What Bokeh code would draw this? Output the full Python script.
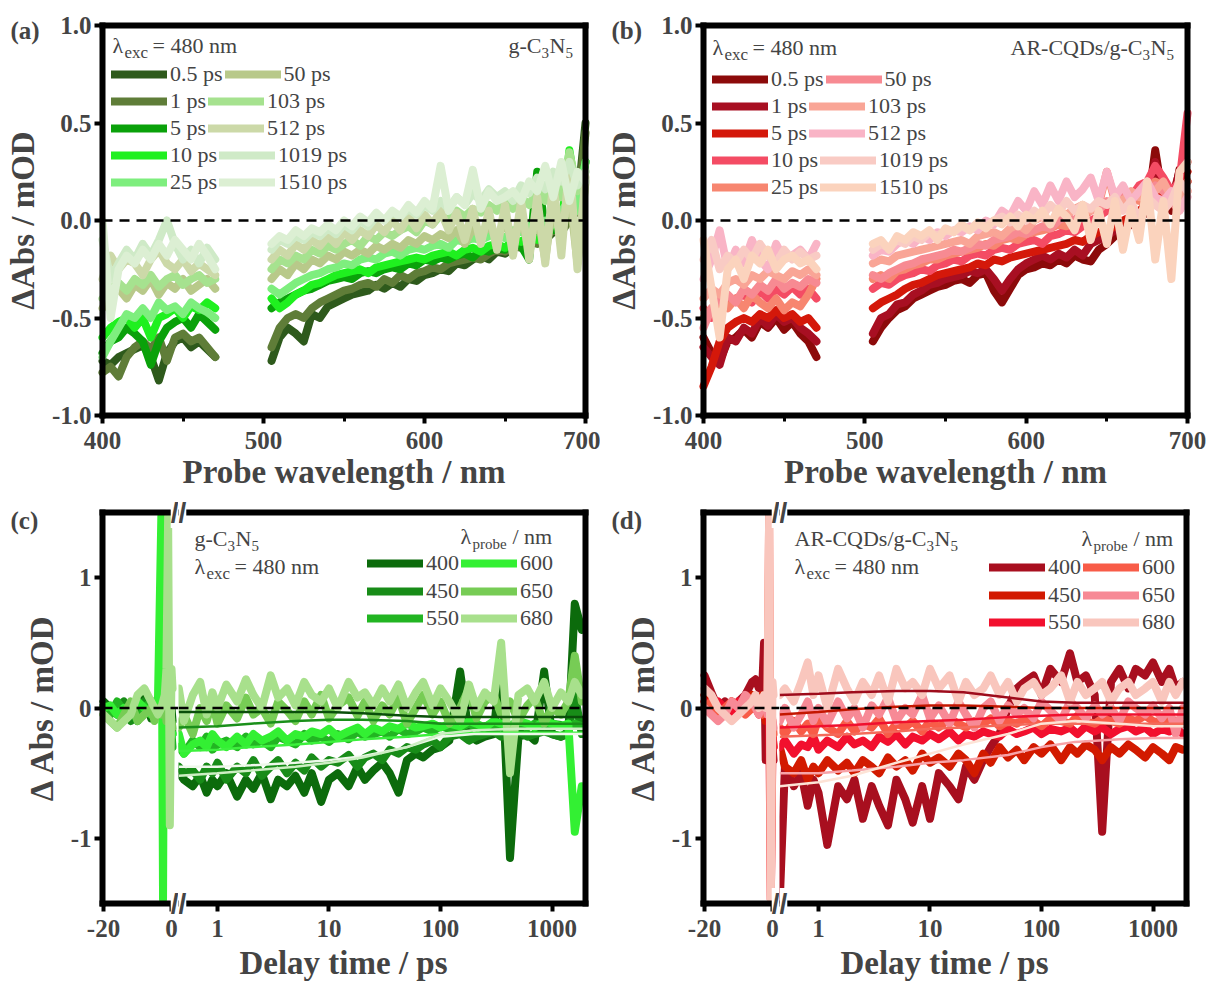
import math
from bokeh.plotting import figure
from bokeh.layouts import row, column
from bokeh.models import (Range1d, FixedTicker, LinearAxis, LogAxis, Label,
                          Legend, LegendItem, BasicTickFormatter)
from bokeh.embed import file_html
from bokeh.resources import INLINE

NAN = float("nan")
FONT = "Liberation Serif"

# ---------------- data: panels (a) and (b), transient spectra ----------------
WL_BLUE = list(range(400, 471, 5))    # probe wavelengths below the pump gap
WL_RED = list(range(505, 701, 5))     # probe wavelengths above the pump gap
DELAYS = ["0.5 ps", "1 ps", "5 ps", "10 ps", "25 ps", "50 ps", "103 ps", "512 ps", "1019 ps", "1510 ps"]
GREENS = ["#2e5a1c", "#5f7d38", "#0aa10a", "#1ff01f", "#7eee7e", "#b8c98a", "#a6e28f", "#ccd9a8", "#cfeac7", "#dcefd3"]
REDS = ["#8c0a0a", "#a80f22", "#d4180a", "#f44c64", "#f78670", "#f78a92", "#f9a596", "#f9b4c6", "#f9cbc4", "#fbd3bd"]
X_LIM_AB = [400, 700]
Y_LIM_AB = [-1.0, 1.0]
X_TICKS_AB = [400, 500, 600, 700]
X_LABELS_AB = ["400", "500", "600", "700"]
X_MINOR_AB = [450, 550, 650]
Y_TICKS_AB = [-1.0, -0.5, 0.0, 0.5, 1.0]
Y_LABELS_AB = ["-1.0", "-0.5", "0.0", "0.5", "1.0"]

# g-C3N5, 400-470 nm
a05_1 = [-0.72, -0.74, -0.7, -0.68, -0.66, -0.64, -0.7, -0.82, -0.68, -0.62, -0.6, -0.65, -0.62, -0.66, -0.7]
a1_1 = [-0.78, -0.75, -0.8, -0.7, -0.65, -0.62, -0.66, -0.6, -0.72, -0.6, -0.58, -0.62, -0.6, -0.65, -0.7]
a5_1 = [-0.68, -0.62, -0.6, -0.55, -0.58, -0.62, -0.74, -0.62, -0.55, -0.52, -0.5, -0.55, -0.48, -0.52, -0.56]
a10_1 = [-0.6, -0.55, -0.52, -0.5, -0.55, -0.5, -0.6, -0.5, -0.48, -0.45, -0.5, -0.44, -0.46, -0.42, -0.45]
a25_1 = [-0.7, -0.62, -0.55, -0.48, -0.5, -0.45, -0.5, -0.42, -0.46, -0.44, -0.48, -0.42, -0.45, -0.47, -0.5]
a50_1 = [-0.45, -0.38, -0.35, -0.4, -0.33, -0.36, -0.3, -0.38, -0.32, -0.35, -0.3, -0.36, -0.33, -0.3, -0.35]
a103_1 = [-0.4, -0.35, -0.32, -0.36, -0.3, -0.33, -0.28, -0.34, -0.3, -0.28, -0.33, -0.3, -0.28, -0.32, -0.3]
a512_1 = [-0.3, -0.18, -0.25, -0.2, -0.22, -0.28, -0.2, -0.15, -0.22, -0.25, -0.2, -0.26, -0.22, -0.25, -0.28]
a1019_1 = [-0.1, -0.3, -0.22, -0.15, -0.2, -0.12, -0.18, -0.1, 0.0, -0.12, -0.2, -0.15, -0.22, -0.14, -0.2]
a1510_1 = [0.0, -0.5, -0.25, -0.18, -0.22, -0.15, -0.2, -0.12, -0.18, -0.1, -0.15, -0.2, -0.12, -0.18, -0.25]
# g-C3N5, 505-700 nm
a05_2 = [-0.72, -0.6, -0.55, -0.58, -0.62, -0.48, -0.5, -0.44, -0.42, -0.4, -0.38, -0.37, -0.36, -0.33, -0.35, -0.32, -0.34, -0.3, -0.31, -0.28,
         -0.27, -0.25, -0.26, -0.22, -0.23, -0.2, -0.18, -0.2, -0.16, -0.17, -0.14, -0.12, -0.13, -0.08, -0.1, -0.06, -0.03, 0.02, 0.08, 0.5]
a1_2 = [-0.65, -0.55, -0.5, -0.48, -0.5, -0.45, -0.42, -0.4, -0.38, -0.36, -0.35, -0.33, -0.32, -0.34, -0.3, -0.32, -0.28, -0.3, -0.27, -0.26,
        -0.24, -0.25, -0.22, -0.21, -0.2, -0.19, -0.2, -0.17, -0.15, -0.16, -0.13, -0.14, -0.1, -0.12, -0.08, -0.05, -0.06, 0.0, 0.05, 0.45]
a5_2 = [-0.45, -0.42, -0.4, -0.38, -0.36, -0.35, -0.33, -0.31, -0.3, -0.29, -0.3, -0.27, -0.26, -0.27, -0.25, -0.24, -0.25, -0.22, -0.23, -0.2,
        -0.21, -0.19, -0.2, -0.18, -0.17, -0.19, -0.15, -0.16, -0.14, -0.15, -0.12, -0.13, -0.2, 0.25, -0.05, -0.05, 0.0, 0.02, 0.1, 0.3]
a10_2 = [-0.4, -0.45, -0.42, -0.38, -0.36, -0.33, -0.32, -0.3, -0.28, -0.27, -0.26, -0.25, -0.27, -0.24, -0.23, -0.22, -0.21, -0.2, -0.19, -0.2,
         -0.18, -0.17, -0.16, -0.18, -0.15, -0.14, -0.16, -0.13, -0.12, -0.14, -0.1, -0.11, -0.08, -0.1, -0.05, -0.02, -0.04, 0.36, 0.1, 0.3]
a25_2 = [-0.35, -0.38, -0.35, -0.32, -0.3, -0.28, -0.27, -0.25, -0.24, -0.22, -0.23, -0.2, -0.19, -0.2, -0.17, -0.16, -0.18, -0.15, -0.14, -0.15,
         -0.13, -0.12, -0.14, -0.1, -0.11, -0.09, -0.1, -0.08, -0.07, -0.09, -0.05, -0.06, -0.03, -0.05, 0.0, -0.02, 0.05, 0.1, 0.05, 0.3]
a50_2 = [-0.3, -0.25, -0.28, -0.22, -0.25, -0.2, -0.22, -0.18, -0.2, -0.16, -0.18, -0.15, -0.17, -0.13, -0.15, -0.12, -0.14, -0.1, -0.12, -0.08,
         -0.1, -0.07, -0.09, -0.05, -0.12, -0.04, -0.08, -0.02, -0.1, 0.0, -0.12, 0.02, -0.15, 0.05, -0.2, 0.1, -0.05, 0.15, -0.22, 0.2]
a103_2 = [-0.25, -0.2, -0.22, -0.18, -0.2, -0.15, -0.17, -0.13, -0.15, -0.12, -0.1, -0.13, -0.08, -0.1, -0.06, -0.08, -0.05, -0.03, -0.06, 0.0,
          -0.02, 0.03, 0.0, 0.05, 0.02, 0.06, 0.04, 0.08, 0.05, 0.1, 0.06, 0.12, 0.08, 0.15, 0.1, 0.2, 0.12, 0.35, 0.15, 0.25]
a512_2 = [-0.2, -0.15, -0.18, -0.12, -0.15, -0.1, -0.13, -0.08, -0.12, -0.06, -0.1, -0.05, -0.08, -0.02, -0.06, 0.0, -0.05, 0.02, -0.04, 0.03,
          -0.02, 0.05, -0.05, 0.04, -0.1, 0.06, -0.12, 0.05, -0.15, 0.08, -0.18, 0.1, -0.2, 0.12, -0.22, 0.2, -0.18, 0.3, -0.25, 0.22]
a1019_2 = [-0.15, -0.1, -0.12, -0.08, -0.1, -0.06, -0.08, -0.04, -0.07, -0.02, -0.05, 0.0, -0.03, 0.02, 0.0, 0.04, 0.02, 0.06, 0.03, 0.08,
           0.05, 0.1, 0.06, 0.12, 0.08, 0.14, 0.1, 0.16, 0.12, 0.15, 0.1, 0.18, 0.14, 0.22, 0.16, 0.25, 0.2, 0.3, 0.18, 0.25]
a1510_2 = [-0.12, -0.08, -0.1, -0.05, -0.08, -0.04, -0.06, -0.02, -0.05, 0.0, -0.03, 0.02, -0.01, 0.04, 0.0, 0.05, 0.02, 0.08, 0.04, 0.1,
           0.06, 0.28, 0.05, 0.12, 0.08, 0.26, 0.06, 0.15, 0.1, 0.12, 0.15, 0.1, 0.2, 0.15, 0.28, 0.12, 0.3, 0.1, 0.25, 0.2]

# AR-CQDs/g-C3N5, 400-470 nm
b05_1 = [-0.6, -0.68, -0.72, -0.62, -0.6, -0.56, -0.6, -0.52, -0.55, -0.5, -0.56, -0.52, -0.58, -0.62, -0.7]
b1_1 = [-0.65, -0.7, -0.74, -0.6, -0.62, -0.55, -0.58, -0.5, -0.54, -0.48, -0.52, -0.5, -0.55, -0.58, -0.62]
b5_1 = [-0.85, -0.75, -0.62, -0.55, -0.52, -0.5, -0.52, -0.48, -0.5, -0.46, -0.5, -0.48, -0.52, -0.5, -0.55]
b10_1 = [-0.45, -0.5, -0.48, -0.42, -0.4, -0.38, -0.42, -0.36, -0.4, -0.35, -0.38, -0.34, -0.38, -0.35, -0.4]
b25_1 = [-0.5, -0.45, -0.42, -0.45, -0.4, -0.45, -0.38, -0.42, -0.45, -0.4, -0.46, -0.42, -0.44, -0.38, -0.3]
b50_1 = [-0.55, -0.45, -0.4, -0.38, -0.42, -0.35, -0.38, -0.33, -0.36, -0.3, -0.35, -0.32, -0.34, -0.3, -0.32]
b103_1 = [-0.4, -0.35, -0.38, -0.32, -0.3, -0.33, -0.28, -0.3, -0.26, -0.28, -0.3, -0.26, -0.28, -0.25, -0.28]
b512_1 = [-0.3, -0.2, -0.05, -0.25, -0.15, -0.22, -0.1, -0.2, -0.25, -0.12, -0.2, -0.18, -0.15, -0.2, -0.12]
b1019_1 = [-0.2, -0.1, -0.25, -0.18, -0.22, -0.15, -0.2, -0.12, -0.18, -0.22, -0.15, -0.2, -0.16, -0.2, -0.18]
b1510_1 = [-0.1, -0.35, -0.6, -0.25, -0.2, -0.3, -0.18, -0.22, -0.15, -0.25, -0.2, -0.18, -0.22, -0.2, -0.25]
# AR-CQDs/g-C3N5, 505-700 nm
b05_2 = [-0.62, -0.55, -0.5, -0.46, -0.44, -0.4, -0.38, -0.36, -0.34, -0.33, -0.31, -0.3, -0.32, -0.28, -0.27, -0.36, -0.42, -0.35, -0.28, -0.25,
         -0.24, -0.22, -0.23, -0.2, -0.22, -0.18, -0.2, -0.21, -0.15, -0.12, -0.08, -0.05, -0.02, 0.0, 0.05, 0.36, 0.1, 0.05, 0.26, 0.2]
b1_2 = [-0.58, -0.5, -0.48, -0.43, -0.42, -0.38, -0.36, -0.33, -0.32, -0.3, -0.29, -0.28, -0.26, -0.27, -0.25, -0.3, -0.36, -0.3, -0.25, -0.22,
        -0.2, -0.18, -0.2, -0.17, -0.19, -0.15, -0.18, -0.12, -0.1, -0.08, -0.05, -0.02, 0.0, 0.03, 0.1, 0.3, 0.15, 0.1, 0.25, 0.3]
b5_2 = [-0.45, -0.42, -0.4, -0.38, -0.35, -0.33, -0.32, -0.3, -0.28, -0.27, -0.26, -0.25, -0.24, -0.22, -0.23, -0.2, -0.21, -0.19, -0.18, -0.17,
        -0.16, -0.15, -0.14, -0.13, -0.12, -0.1, -0.11, -0.08, -0.06, -0.05, -0.03, 0.0, 0.02, 0.05, 0.08, 0.1, 0.15, 0.12, 0.2, 0.25]
b10_2 = [-0.35, -0.32, -0.33, -0.3, -0.28, -0.27, -0.25, -0.26, -0.23, -0.22, -0.2, -0.21, -0.18, -0.17, -0.18, -0.15, -0.14, -0.15, -0.12, -0.11,
         -0.1, -0.12, -0.08, -0.07, -0.05, -0.06, -0.03, 0.0, 0.02, 0.05, 0.08, 0.1, 0.12, 0.18, 0.2, 0.28, 0.22, 0.15, 0.2, 0.55]
b25_2 = [-0.3, -0.28, -0.3, -0.26, -0.25, -0.23, -0.22, -0.2, -0.2, -0.18, -0.17, -0.16, -0.15, -0.14, -0.12, -0.13, -0.1, -0.09, -0.1, -0.07,
         -0.06, -0.05, -0.04, -0.02, -0.03, 0.0, 0.02, 0.05, 0.08, 0.25, 0.1, 0.15, 0.12, 0.1, 0.15, 0.2, 0.18, 0.12, 0.15, 0.2]
b50_2 = [-0.28, -0.3, -0.27, -0.25, -0.23, -0.22, -0.2, -0.19, -0.18, -0.17, -0.15, -0.16, -0.14, -0.12, -0.13, -0.1, -0.09, -0.08, -0.06, -0.07,
         -0.05, -0.03, -0.04, 0.0, 0.02, 0.0, 0.04, 0.06, 0.05, 0.1, 0.08, 0.12, 0.1, 0.15, 0.12, 0.18, 0.15, 0.1, 0.05, 0.15]
b103_2 = [-0.22, -0.2, -0.21, -0.18, -0.17, -0.16, -0.15, -0.14, -0.13, -0.12, -0.11, -0.1, -0.12, -0.08, -0.07, -0.06, -0.08, -0.04, -0.02, -0.05,
          0.0, 0.02, -0.02, 0.05, 0.03, 0.06, 0.08, 0.05, 0.1, 0.08, 0.12, 0.1, 0.15, 0.12, 0.18, 0.15, 0.2, 0.12, 0.1, 0.15]
b512_2 = [-0.18, -0.15, -0.16, -0.12, -0.1, -0.12, -0.08, -0.1, -0.06, -0.08, -0.05, -0.06, -0.03, -0.05, 0.0, -0.02, 0.05, 0.02, 0.1, 0.05,
          0.15, 0.08, 0.18, 0.1, 0.2, 0.12, 0.16, 0.22, 0.1, 0.25, 0.12, 0.18, 0.1, 0.15, 0.2, 0.12, 0.1, 0.15, 0.05, 0.12]
b1019_2 = [-0.15, -0.12, -0.14, -0.1, -0.12, -0.08, -0.1, -0.06, -0.08, -0.05, -0.06, -0.03, -0.05, -0.02, -0.03, 0.0, 0.02, -0.01, 0.03, 0.0,
           0.05, 0.02, 0.08, 0.04, 0.1, 0.05, 0.08, 0.06, 0.1, 0.08, 0.12, 0.05, 0.1, 0.0, 0.12, 0.08, 0.05, 0.1, 0.2, 0.15]
b1510_2 = [-0.12, -0.1, -0.15, -0.08, -0.1, -0.06, -0.08, -0.05, -0.1, -0.04, -0.06, -0.02, -0.05, -0.01, -0.04, 0.0, -0.02, 0.02, -0.03, 0.03,
           0.0, 0.05, -0.02, 0.06, 0.02, -0.05, 0.08, -0.1, 0.05, -0.12, 0.1, -0.15, 0.06, -0.1, 0.2, -0.2, 0.1, -0.3, 0.25, 0.3]

# ---------------- data: panels (c) and (d), kinetics ----------------
PROBES = ["400", "450", "550", "600", "650", "680"]
GREENS_K = ["#0c6b0c", "#188c18", "#22b522", "#33f033", "#77cc55", "#a8e08c"]
REDS_K = ["#a80f1f", "#d21a00", "#f2102e", "#f85c48", "#f78a96", "#f9c6bd"]
X_LIM_NEG = [-20.3, 2.05]        # linear part of the broken delay axis
X_LIM_POS = [0.447, 1997]        # logarithmic part of the broken delay axis
Y_LIM_CD = [-1.5, 1.5]
X_TICKS_NEG = [-20, 0]
X_LABELS_NEG = ["-20", "0"]
X_TICKS_POS = [1, 10, 100, 1000]
X_LABELS_POS = ["1", "10", "100", "1000"]
Y_TICKS_CD = [-1, 0, 1]
Y_LABELS_CD = ["-1", "0", "1"]
T_NEG = [-20, -18, -16, -14, -12, -10, -8, -6, -5, -4, -3, -2.5, -2, -1.5, -1, -0.5, 0, 0.3]
T_POS = [0.45, 0.5, 0.6, 0.7, 0.8, 0.9, 1.0, 1.2, 1.5, 1.8, 2.1, 2.5, 3.0, 3.5, 4.2, 5.0, 6.0, 7.0, 8.5, 10,
         12, 15, 18, 21, 25, 30, 35, 42, 50, 60, 70, 85, 100, 120, 150, 180, 210, 250, 300, 350,
         420, 500, 600, 700, 850, 1000, 1200, 1400, 1600, 1850]
T_FIT = [0.45, 1, 2, 5, 10, 20, 50, 100, 200, 500, 1000, 2000]

c400_n = [0.05, 0.0, -0.05, 0.02, -0.05, 0.0, 0.1, -0.08, 0.05, 0.0, 0.05, 0.0, -0.1, 0.05, 0.0, -0.05, 0.0, -0.1]
c450_n = [0.02, -0.05, 0.0, 0.05, -0.1, -0.05, 0.05, -0.05, 0.0, 0.05, -0.05, 0.0, 0.05, -0.05, 0.0, 0.05, -0.1, -0.2]
c550_n = [0.0, -0.05, 0.05, -0.02, 0.0, -0.1, 0.0, 0.05, -0.05, 0.0, 0.05, -0.1, 0.0, 0.05, -0.05, 0.0, -0.2, -0.3]
c600_n = [0.0, 0.02, -0.05, 0.0, -0.05, 0.05, 0.0, -0.05, 0.0, 0.05, 1.47, -1.47, 1.47, -0.1, 0.0, -0.1, -0.2, -0.2]
c650_n = [-0.05, -0.1, -0.15, -0.05, 0.05, -0.1, -0.05, 0.0, -0.1, 0.0, -0.05, 0.0, 0.05, -0.1, 0.0, 0.0, -0.1, -0.15]
c680_n = [-0.05, -0.1, -0.15, -0.1, -0.05, 0.1, 0.15, 0.05, 0.0, -0.05, 0.0, 0.05, 0.1, 0.3, 1.47, -0.9, 0.3, 0.15]

c400_p = [-0.5, -0.55, -0.6, -0.52, -0.65, -0.55, -0.6, -0.5, -0.68, -0.55, -0.62, -0.5, -0.7, -0.55, -0.6, -0.52, -0.65, -0.5, -0.72, -0.55,
          -0.5, -0.6, -0.45, -0.55, -0.48, -0.42, -0.5, -0.65, -0.4, -0.35, -0.38, -0.32, -0.3, -0.25, 0.28, -0.2, -0.25, -0.22, -0.2, 0.42,
          -1.15, -0.22, -0.2, -0.25, 0.28, -0.2, -0.22, -0.2, 0.8, 0.6]
c450_p = [-0.45, -0.5, -0.48, -0.55, -0.45, -0.5, -0.42, -0.55, -0.45, -0.5, -0.4, -0.52, -0.45, -0.4, -0.5, -0.42, -0.48, -0.38, -0.45, -0.4,
          -0.42, -0.36, -0.45, -0.38, -0.35, -0.4, -0.32, -0.35, -0.3, -0.32, -0.28, -0.25, -0.3, -0.22, -0.2, -0.25, -0.22, -0.2, -0.18, -0.22,
          -0.2, -0.18, -0.22, -0.2, -0.18, -0.2, -0.22, -0.18, 0.1, -0.2]
c550_p = [-0.3, -0.35, -0.25, -0.3, -0.22, -0.32, -0.28, -0.25, -0.3, -0.22, -0.28, -0.25, -0.3, -0.22, -0.25, -0.28, -0.2, -0.25, -0.22, -0.26,
          -0.2, -0.24, -0.18, -0.22, -0.2, -0.18, -0.22, -0.16, -0.2, -0.18, -0.15, -0.18, -0.14, -0.16, -0.15, -0.12, -0.15, -0.14, -0.12, -0.15,
          -0.13, -0.12, -0.15, -0.12, -0.14, -0.12, -0.13, -0.15, -0.12, -0.14]
c600_p = [-0.2, -0.35, -0.28, -0.25, -0.3, -0.2, -0.25, -0.3, -0.22, -0.28, -0.2, -0.25, -0.22, -0.18, -0.25, -0.2, -0.22, -0.18, -0.2, -0.16,
          -0.22, -0.18, -0.15, -0.2, -0.15, -0.18, -0.14, -0.16, -0.12, -0.15, -0.14, -0.12, -0.15, -0.12, -0.14, -0.1, -0.12, -0.15, -0.1, -0.12,
          -0.14, -0.1, -0.12, -0.15, -0.1, -0.12, -0.14, -0.12, -0.95, -0.6]
c650_p = [-0.15, -0.05, -0.2, 0.0, -0.1, 0.05, -0.12, 0.02, -0.08, 0.08, -0.05, 0.0, -0.12, 0.05, -0.02, -0.1, 0.05, -0.05, 0.1, -0.08,
          0.02, 0.08, -0.06, 0.05, -0.1, 0.02, -0.05, 0.08, -0.12, 0.0, 0.1, -0.05, 0.05, -0.12, 0.0, 0.15, -0.08, 0.05, 0.1, -0.05,
          0.05, -0.1, 0.02, 0.08, -0.12, 0.0, -0.05, 0.05, 0.4, 0.05]
c680_p = [0.15, -0.1, 0.1, 0.2, -0.05, 0.12, 0.0, 0.18, 0.05, 0.22, 0.1, 0.0, 0.25, 0.08, 0.15, 0.02, 0.2, 0.1, 0.05, 0.15,
          0.0, 0.2, 0.08, 0.12, 0.02, 0.15, 0.05, 0.18, 0.0, 0.12, 0.2, 0.02, 0.15, 0.05, -0.1, 0.18, 0.0, 0.12, 0.05, 0.5,
          -0.5, 0.1, 0.15, 0.05, 0.2, 0.0, 0.12, 0.05, 0.2, 0.1]
c_fit1 = [-0.03, -0.03, -0.03, -0.03, -0.03, -0.04, -0.06, -0.07, -0.07, -0.07, -0.07, -0.07]
c_fit2 = [-0.15, -0.14, -0.12, -0.1, -0.09, -0.09, -0.1, -0.12, -0.12, -0.12, -0.12, -0.12]
c_fit3 = [-0.33, -0.32, -0.3, -0.28, -0.26, -0.24, -0.22, -0.2, -0.19, -0.19, -0.19, -0.19]
c_fit4 = [-0.45, -0.45, -0.44, -0.42, -0.4, -0.37, -0.3, -0.22, -0.2, -0.2, -0.2, -0.2]
c_fit5 = [-0.52, -0.5, -0.48, -0.45, -0.42, -0.38, -0.3, -0.2, -0.17, -0.16, -0.16, -0.16]
C_FIT_COLORS = ["#0a4f0a", "#1a8f1a", "#3cf03c", "#eef8ea", "#cdeec3"]

d400_n = [0.25, 0.12, 0.0, 0.05, 0.0, 0.05, 0.1, 0.2, 0.22, 0.15, 0.18, 0.5, -0.4, 0.0, -0.1, 0.1, -0.3, -0.4]
d450_n = [0.1, 0.05, 0.0, -0.05, 0.05, 0.0, 0.05, 0.1, 0.05, 0.0, 0.1, 0.0, -0.1, 0.05, 0.0, -0.05, -0.2, -0.3]
d550_n = [0.05, 0.0, 0.05, 0.0, -0.05, 0.05, 0.0, 0.05, 0.0, -0.05, 0.05, 0.0, -0.05, 0.0, 0.05, -1.47, -0.2, -0.3]
d600_n = [0.0, 0.05, -0.05, 0.0, 0.05, 0.0, -0.05, 0.0, 0.05, 0.0, -0.05, 0.0, 0.05, 0.0, 1.47, -1.47, -0.1, -0.2]
d650_n = [0.0, -0.05, -0.1, -0.05, 0.05, 0.0, 0.1, 0.05, 0.0, -0.05, 0.08, 0.0, 0.05, -0.05, 0.0, 0.0, -0.1, -0.15]
d680_n = [0.15, 0.1, 0.0, -0.05, -0.1, -0.05, 0.0, 0.05, 0.1, 0.0, 0.05, 0.1, 0.0, 0.1, 1.47, -1.47, 0.2, 0.1]

d400_p = [-1.47, -0.45, -0.6, -0.5, -0.75, -0.55, -0.65, -1.05, -0.6, -0.7, -0.55, -0.85, -0.6, -0.75, -0.9, -0.55, -0.7, -0.88, -0.6, -0.85,
          -0.5, -0.6, -0.7, -0.45, -0.55, -0.4, -0.3, -0.2, 0.0, 0.15, 0.2, 0.25, 0.1, 0.3, 0.2, 0.42, 0.2, 0.25, 0.1, -0.95,
          0.2, 0.3, 0.15, 0.3, 0.25, 0.35, 0.2, 0.3, 0.15, 0.2]
d450_p = [-0.3, -0.45, -0.5, -0.4, -0.55, -0.45, -0.5, -0.4, -0.48, -0.42, -0.5, -0.4, -0.45, -0.5, -0.38, -0.45, -0.4, -0.48, -0.35, -0.42,
          -0.38, -0.45, -0.35, -0.4, -0.5, -0.35, -0.42, -0.3, -0.38, -0.32, -0.4, -0.3, -0.35, -0.28, -0.4, -0.3, -0.35, -0.28, -0.32, -0.4,
          -0.3, -0.35, -0.28, -0.32, -0.38, -0.3, -0.35, -0.4, -0.3, -0.32]
d550_p = [-0.3, -0.25, -0.35, -0.28, -0.3, -0.22, -0.32, -0.25, -0.3, -0.22, -0.28, -0.25, -0.3, -0.22, -0.26, -0.2, -0.28, -0.22, -0.25, -0.2,
          -0.24, -0.18, -0.25, -0.2, -0.22, -0.18, -0.2, -0.22, -0.16, -0.2, -0.18, -0.15, -0.2, -0.16, -0.18, -0.15, -0.2, -0.14, -0.18, -0.15,
          -0.2, -0.16, -0.14, -0.18, -0.15, -0.2, -0.16, -0.18, -0.15, -0.2]
d600_p = [-0.15, -0.2, -0.1, -0.18, -0.12, -0.2, -0.08, -0.15, -0.2, -0.1, -0.18, -0.12, -0.15, -0.08, -0.2, -0.12, -0.15, -0.1, -0.18, -0.1,
          -0.15, -0.08, -0.12, -0.15, -0.1, -0.12, -0.08, -0.14, -0.1, -0.12, -0.08, -0.1, -0.14, -0.08, -0.1, -0.12, -0.06, -0.1, -0.12, -0.08,
          -0.1, -0.12, -0.08, -0.1, -0.06, -0.1, -0.12, -0.08, -0.1, -0.12]
d650_p = [-0.1, 0.0, -0.15, -0.05, 0.05, -0.1, 0.0, -0.12, 0.05, -0.08, 0.0, -0.15, 0.02, -0.05, 0.08, -0.1, 0.0, -0.05, 0.1, -0.08,
          0.02, -0.12, 0.05, -0.05, -0.15, 0.0, 0.05, -0.1, 0.02, -0.05, 0.0, -0.08, 0.05, -0.02, -0.1, 0.05, 0.0, -0.08, 0.02, -0.05,
          0.0, -0.1, 0.05, 0.0, -0.05, 0.02, -0.08, 0.0, -0.2, 0.0]
d680_p = [0.1, 0.15, 0.05, 0.2, 0.35, 0.1, 0.25, 0.0, 0.3, 0.15, 0.05, 0.2, 0.1, 0.25, 0.05, 0.3, 0.15, 0.2, 0.1, 0.3,
          0.15, 0.25, 0.05, 0.2, 0.1, 0.15, 0.25, 0.1, 0.2, 0.05, 0.15, 0.2, 0.1, 0.15, 0.25, 0.05, 0.2, 0.1, 0.15, 0.2,
          0.05, 0.15, 0.2, 0.1, 0.15, 0.2, 0.05, 0.2, 0.1, 0.2]
d_fit1 = [0.1, 0.11, 0.12, 0.13, 0.13, 0.12, 0.08, 0.05, 0.04, 0.04, 0.04, 0.04]
d_fit2 = [-0.05, -0.03, -0.01, 0.01, 0.02, 0.02, 0.01, 0.0, 0.0, 0.0, 0.0, 0.0]
d_fit3 = [-0.15, -0.14, -0.13, -0.11, -0.1, -0.09, -0.07, -0.06, -0.05, -0.05, -0.05, -0.05]
d_fit4 = [-0.22, -0.21, -0.2, -0.18, -0.16, -0.15, -0.13, -0.12, -0.12, -0.12, -0.12, -0.12]
d_fit5 = [-0.5, -0.5, -0.48, -0.45, -0.42, -0.4, -0.36, -0.3, -0.26, -0.24, -0.23, -0.23]
d_fit6 = [-0.6, -0.57, -0.52, -0.42, -0.35, -0.28, -0.2, -0.12, -0.1, -0.12, -0.14, -0.14]
D_FIT_COLORS = ["#9e0c1c", "#c41600", "#f0102e", "#f46a5a", "#f7a3a8", "#fde3d6"]

A_BLUE = [a05_1, a1_1, a5_1, a10_1, a25_1, a50_1, a103_1, a512_1, a1019_1, a1510_1]
A_RED = [a05_2, a1_2, a5_2, a10_2, a25_2, a50_2, a103_2, a512_2, a1019_2, a1510_2]
B_BLUE = [b05_1, b1_1, b5_1, b10_1, b25_1, b50_1, b103_1, b512_1, b1019_1, b1510_1]
B_RED = [b05_2, b1_2, b5_2, b10_2, b25_2, b50_2, b103_2, b512_2, b1019_2, b1510_2]
C_NEG = [c400_n, c450_n, c550_n, c600_n, c650_n, c680_n]
C_POS = [c400_p, c450_p, c550_p, c600_p, c650_p, c680_p]
D_NEG = [d400_n, d450_n, d550_n, d600_n, d650_n, d680_n]
D_POS = [d400_p, d450_p, d550_p, d600_p, d650_p, d680_p]
C_FITS = [c_fit1, c_fit2, c_fit3, c_fit4, c_fit5]
D_FITS = [d_fit1, d_fit2, d_fit3, d_fit4, d_fit5, d_fit6]

for s in A_BLUE + B_BLUE:
    assert len(s) == len(WL_BLUE)
for s in A_RED + B_RED:
    assert len(s) == len(WL_RED)
for s in C_NEG + D_NEG:
    assert len(s) == len(T_NEG)
for s in C_POS + D_POS:
    assert len(s) == len(T_POS)
for s in C_FITS + D_FITS:
    assert len(s) == len(T_FIT)

# ---------------- layout (pixels, page coordinates) ----------------
H1, H2 = 494, 488           # heights of the two rows
ROW2 = H1                   # page y where row 2 starts
BOX_Y1 = (25, 415)          # plot box top/bottom, row 1
BOX_Y2 = (512 - ROW2, 903 - ROW2)   # plot box top/bottom, row 2 (local)


def lin_range(v0, v1, p0, p1, size):
    s = (v1 - v0) / (p1 - p0)
    return Range1d(v0 - p0 * s, v1 + (size - p1) * s)


def lin_yrange(v0, v1, ptop, pbot, size):
    s = (v1 - v0) / (pbot - ptop)
    return Range1d(v0 - (size - pbot) * s, v1 + ptop * s)


def log_range(v0, v1, p0, p1, size):
    l0, l1 = math.log10(v0), math.log10(v1)
    s = (l1 - l0) / (p1 - p0)
    return Range1d(10 ** (l0 - p0 * s), 10 ** (l1 + (size - p1) * s))


def overrides(ticks, labels):
    d = {}
    for t, lab in zip(ticks, labels):
        d[t] = lab
        d["%g" % t] = lab
    return d


def add_axis(p, side, cls, loc, bounds, ticks=(), labels=None, minor=(), title=None,
             lab_standoff=8, title_standoff=6):
    ax = cls(fixed_location=loc, bounds=tuple(bounds),
             ticker=FixedTicker(ticks=list(ticks), minor_ticks=list(minor)))
    if cls is LogAxis:
        ax.formatter = BasicTickFormatter()
    if labels:
        ax.major_label_overrides = overrides(ticks, labels)
    if title:
        ax.axis_label = title
    ax.axis_line_width = 6
    ax.axis_line_color = "black"
    ax.axis_line_cap = "square"
    ax.major_tick_line_width = 4
    ax.major_tick_in = 0
    ax.major_tick_out = 8
    ax.minor_tick_line_width = 3
    ax.minor_tick_in = 0
    ax.minor_tick_out = 6
    ax.major_label_text_font = FONT
    ax.major_label_text_font_style = "bold"
    ax.major_label_text_font_size = "25px"
    ax.major_label_standoff = lab_standoff
    ax.axis_label_text_font = FONT
    ax.axis_label_text_font_style = "bold"
    ax.axis_label_text_font_size = "33px"
    ax.axis_label_standoff = title_standoff
    p.add_layout(ax, side)
    return ax


def make_fig(w, h, xr, yr, xtype="linear"):
    p = figure(width=w, height=h, x_range=xr, y_range=yr, x_axis_type=xtype,
               x_axis_location=None, y_axis_location=None,
               output_backend="svg", toolbar_location=None, min_border=0)
    p.outline_line_color = None
    p.background_fill_color = "white"
    p.border_fill_color = "white"
    for g in p.grid:
        g.visible = False
    return p


def put(p, h, x, y, s, size="22px", style="normal", align="left", font=FONT, bg=None):
    p.add_layout(Label(x=x, y=h - y, x_units="screen", y_units="screen", text=s,
                       text_font=font, text_font_size=size, text_font_style=style,
                       text_align=align, text_baseline="middle",
                       background_fill_color=bg))


def lam_sub(p, h, x, y, sub, rest, sub_size, rest_dx):
    put(p, h, x, y, "λ")
    put(p, h, x + 12, y + 7, sub, sub_size)
    put(p, h, x + rest_dx, y, rest)


def formula(p, h, x, y, prefix, prefix_w):
    put(p, h, x, y, prefix)
    put(p, h, x + prefix_w, y + 7, "3", "15px")
    put(p, h, x + prefix_w + 8, y, "N")
    put(p, h, x + prefix_w + 24, y + 7, "5", "15px")


def legend_row(p, h, r1, l1, r2, l2, x, yc):
    leg = Legend(items=[LegendItem(label=l1, renderers=[r1]), LegendItem(label=l2, renderers=[r2])],
                 location=(x, h - yc - 12), orientation="horizontal", glyph_width=56, glyph_height=24,
                 label_height=24, label_standoff=3, spacing=2, padding=0, margin=0,
                 border_line_color=None, background_fill_alpha=0,
                 label_text_font=FONT, label_text_font_size="22px")
    p.add_layout(leg)


def spectra_panel(w, bx, blue, red, colors, letter_x, prefix, prefix_w, fx, leg_x, leg_ys, lam_x, lam_y, letter):
    p = make_fig(w, H1, lin_range(X_LIM_AB[0], X_LIM_AB[1], bx[0], bx[1], w),
                 lin_yrange(Y_LIM_AB[0], Y_LIM_AB[1], BOX_Y1[0], BOX_Y1[1], H1))
    xs = WL_BLUE + [NAN] + WL_RED
    rs = []
    for s1, s2, c in zip(blue, red, colors):
        rs.append(p.line(xs, s1 + [NAN] + s2, line_width=8, line_color=c,
                         line_cap="round", line_join="round"))
    p.line(X_LIM_AB, [0, 0], line_color="black", line_width=2.5, line_dash="10 7")
    add_axis(p, "below", LinearAxis, Y_LIM_AB[0], X_LIM_AB, X_TICKS_AB, X_LABELS_AB, X_MINOR_AB,
             "Probe wavelength / nm", 8, 2)
    add_axis(p, "left", LinearAxis, X_LIM_AB[0], Y_LIM_AB, Y_TICKS_AB, Y_LABELS_AB, (),
             "ΔAbs / mOD", 3, 8)
    add_axis(p, "above", LinearAxis, Y_LIM_AB[1], X_LIM_AB)
    add_axis(p, "right", LinearAxis, X_LIM_AB[1], Y_LIM_AB)
    for i in range(5):
        legend_row(p, H1, rs[i], DELAYS[i], rs[i + 5], DELAYS[i + 5], leg_x, leg_ys[i])
    lam_sub(p, H1, lam_x, lam_y, "exc", "= 480 nm", "17px", 40)
    formula(p, H1, fx, lam_y, prefix, prefix_w)
    put(p, H1, letter_x, 30, letter, "25px", "bold")
    return p


def kinetics_panel(wl, bxl, wr, neg, pos, colors, fits, fit_colors, letter, letter_x, prefix, prefix_w,
                   tx, leg_x, leg_ys, lp_x, lp_y, title_x):
    yr = lin_yrange(Y_LIM_CD[0], Y_LIM_CD[1], BOX_Y2[0], BOX_Y2[1], H2)
    pl = make_fig(wl, H2, lin_range(X_LIM_NEG[0], X_LIM_NEG[1], bxl, wl, wl), yr)
    pr = make_fig(wr, H2, log_range(X_LIM_POS[0], X_LIM_POS[1], 0, 407, wr), yr, "log")
    rs = []
    for sn, sp, c in zip(neg, pos, colors):
        pl.line(T_NEG, sn, line_width=8, line_color=c, line_cap="round", line_join="round")
        rs.append(pr.line(T_POS, sp, line_width=8, line_color=c, line_cap="round", line_join="round"))
    for f, c in zip(fits, fit_colors):
        pr.line(T_FIT, f, line_width=2.5, line_color=c)
    pl.line(X_LIM_NEG, [0, 0], line_color="black", line_width=2.5, line_dash="10 7")
    pr.line(X_LIM_POS, [0, 0], line_color="black", line_width=2.5, line_dash="10 7")
    add_axis(pl, "below", LinearAxis, Y_LIM_CD[0], X_LIM_NEG, X_TICKS_NEG, X_LABELS_NEG)
    add_axis(pl, "left", LinearAxis, X_LIM_NEG[0], Y_LIM_CD, Y_TICKS_CD, Y_LABELS_CD, (),
             "Δ Abs / mOD", 3, 8)
    add_axis(pl, "above", LinearAxis, Y_LIM_CD[1], X_LIM_NEG)
    add_axis(pr, "below", LogAxis, Y_LIM_CD[0], X_LIM_POS, X_TICKS_POS, X_LABELS_POS)
    add_axis(pr, "above", LinearAxis, Y_LIM_CD[1], X_LIM_POS)
    add_axis(pr, "right", LinearAxis, X_LIM_POS[1], Y_LIM_CD)
    for i in range(3):
        legend_row(pr, H2, rs[i], PROBES[i], rs[i + 3], PROBES[i + 3], leg_x, leg_ys[i] - ROW2)
    formula(pr, H2, tx, 538 - ROW2, prefix, prefix_w)
    lam_sub(pr, H2, tx, 566 - ROW2, "exc", "= 480 nm", "17px", 40)
    lam_sub(pr, H2, lp_x, lp_y - ROW2, "probe", "/ nm", "15px", 52)
    put(pr, H2, title_x, 962 - ROW2, "Delay time / ps", "33px", "bold", "center")
    put(pl, H2, letter_x, 520 - ROW2, letter, "25px", "bold")
    # axis-break marks
    for yy in BOX_Y2:
        put(pl, H2, wl, yy, "/", "28px", "bold", "right", "Liberation Sans", "white")
        put(pr, H2, 0, yy, "/", "28px", "bold", "left", "Liberation Sans", "white")
    return pl, pr


pa = spectra_panel(600, (102, 585), A_BLUE, A_RED, GREENS, 10, "g-C", 33, 508, 111,
                   [75, 102, 129, 156, 183], 112, 45, "(a)")
pb = spectra_panel(607, (103, 587), B_BLUE, B_RED, REDS, 11, "AR-CQDs/g-C", 132, 410, 112,
                   [80, 107, 134, 161, 188], 112, 47, "(b)")
pcl, pcr = kinetics_panel(178, 102, 422, C_NEG, C_POS, GREENS_K, C_FITS, C_FIT_COLORS, "(c)", 10,
                          "g-C", 33, 16, 189, [564, 592, 619], 282, 536, 165)
pdl, pdr = kinetics_panel(179, 103, 428, D_NEG, D_POS, REDS_K, D_FITS, D_FIT_COLORS, "(d)", 11,
                          "AR-CQDs/g-C", 132, 15, 210, [568, 596, 623], 302, 538, 165)

layout = column(row(pa, pb), row(pcl, pcr, pdl, pdr))
open("out.html", "w").write(file_html(layout, INLINE))
